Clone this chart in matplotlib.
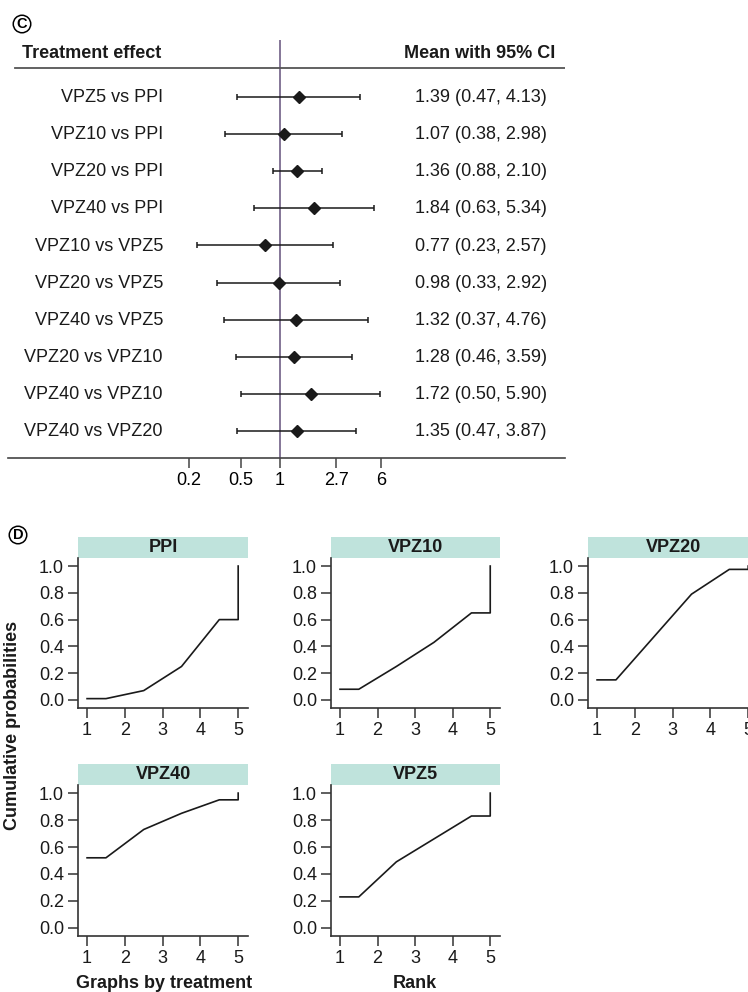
import numpy as np
import matplotlib
matplotlib.use('Agg')
from matplotlib import pyplot as plt
from matplotlib.patches import Rectangle

plt.rcParams['font.family'] = ['Liberation Sans', 'DejaVu Sans']

# Panel C data (network meta-analysis, treatment effects)
comparisons = ['VPZ5 vs PPI', 'VPZ10 vs PPI', 'VPZ20 vs PPI', 'VPZ40 vs PPI',
               'VPZ10 vs VPZ5', 'VPZ20 vs VPZ5', 'VPZ40 vs VPZ5',
               'VPZ20 vs VPZ10', 'VPZ40 vs VPZ10', 'VPZ40 vs VPZ20']
means = [1.39, 1.07, 1.36, 1.84, 0.77, 0.98, 1.32, 1.28, 1.72, 1.35]
lows = [0.47, 0.38, 0.88, 0.63, 0.23, 0.33, 0.37, 0.46, 0.50, 0.47]
highs = [4.13, 2.98, 2.10, 5.34, 2.57, 2.92, 4.76, 3.59, 5.90, 3.87]
forest_ticks = [0.2, 0.5, 1, 2.7, 6]
forest_ticklabels = ['0.2', '0.5', '1', '2.7', '6']

# Panel D data (cumulative rank probabilities)
treatments = ['PPI', 'VPZ10', 'VPZ20', 'VPZ40', 'VPZ5']
rank_x = [1, 1.5, 2.5, 3.5, 4.5, 5, 5]
cum_ppi = [0.01, 0.07, 0.25, 0.60]
cum_vpz10 = [0.08, 0.25, 0.43, 0.65]
cum_vpz20 = [0.15, 0.47, 0.79, 0.975]
cum_vpz40 = [0.52, 0.73, 0.85, 0.95]
cum_vpz5 = [0.23, 0.49, 0.66, 0.83]
cum_all = [cum_ppi, cum_vpz10, cum_vpz20, cum_vpz40, cum_vpz5]

W, H = 748, 992
fig = plt.figure(figsize=(W / 100, H / 100), dpi=100)


def px_axes(left, top, right, bottom):
    # axes from pixel box
    return fig.add_axes([left / W, 1 - bottom / H, (right - left) / W, (bottom - top) / H])


def circled(x, y, letter):
    fig.text(x / W, 1 - y / H, letter, ha='center', va='center', fontsize=10.5,
             fontweight='bold',
             bbox=dict(boxstyle='circle,pad=0.12', fc='white', ec='black', lw=1.1))


FS = 13

# ---------------- Panel C: forest plot ----------------
ax = px_axes(8, 40, 565, 458)
ax.set_xscale('log')
x1, scale = 280, 56.4
ax.set_xlim(np.exp((8 - x1) / scale), np.exp((565 - x1) / scale))
row0, step = 97, 37.1
ax.set_ylim((458 - row0) / step, (40 - row0) / step)

for s in ['top', 'left', 'right']:
    ax.spines[s].set_visible(False)
ax.spines['bottom'].set_color('#444444')
ax.spines['bottom'].set_linewidth(1.2)
ax.set_yticks([])
ax.set_xticks(forest_ticks)
ax.set_xticklabels(forest_ticklabels)
ax.minorticks_off()
ax.tick_params(axis='x', direction='out', length=7, width=1.1, color='#444444',
               labelsize=FS, pad=3)

ax.axvline(1, color='#7b6b8f', lw=1.3, zorder=1)
ax.axhline((68 - row0) / step, xmin=(15 - 8) / 557, xmax=1, color='#555555', lw=1.3)

idx = np.arange(len(comparisons))
m = np.array(means)
err = [m - np.array(lows), np.array(highs) - m]
ax.errorbar(m, idx, xerr=err, fmt='D', color='#1a1a1a', ms=6, capsize=2.5,
            elinewidth=1.1, capthick=1.1, zorder=3)

tr = ax.get_yaxis_transform()
for i, lab in enumerate(comparisons):
    ax.text((163 - 8) / 557, i + 0.14, lab, transform=tr, ha='right', va='baseline',
            fontsize=FS, color='#1a1a1a')
    ax.text((415 - 8) / 557, i + 0.14, f'{means[i]:.2f} ({lows[i]:.2f}, {highs[i]:.2f})',
            transform=tr, ha='left', va='baseline', fontsize=FS, color='#1a1a1a')
ax.text((22 - 8) / 557, (58 - row0) / step, 'Treatment effect', transform=tr,
        ha='left', va='baseline', fontsize=FS, fontweight='bold', color='#1a1a1a')
ax.text((555 - 8) / 557, (58 - row0) / step, 'Mean with 95% CI', transform=tr,
        ha='right', va='baseline', fontsize=FS, fontweight='bold', color='#1a1a1a')

circled(22, 24, 'C')

# ---------------- Panel D: cumulative rank plots ----------------
boxes = [(78, 558, 248, 708), (331, 558, 500, 708), (588, 558, 758, 708),
         (78, 785, 248, 936), (331, 785, 500, 936)]
strip_h = 21

for k, (l, t, r, b) in enumerate(boxes):
    a = px_axes(l, t, r, b)
    c = cum_all[k]
    yv = [c[0], c[0], c[1], c[2], c[3], c[3], 1.0]
    a.plot(rank_x, yv, color='#1a1a1a', lw=1.2)
    a.set_xlim(0.76, 5.26)
    a.set_ylim(-0.06, 1.06)
    a.spines['top'].set_visible(False)
    a.spines['right'].set_visible(False)
    for s in ['left', 'bottom']:
        a.spines[s].set_color('#333333')
        a.spines[s].set_linewidth(1.2)
    a.set_xticks([1, 2, 3, 4, 5])
    a.set_yticks([0, 0.2, 0.4, 0.6, 0.8, 1.0])
    a.set_yticklabels(['0.0', '0.2', '0.4', '0.6', '0.8', '1.0'])
    a.tick_params(direction='out', length=7, width=1.1, color='#333333',
                  labelsize=FS, pad=3, labelcolor='#1a1a1a')
    hfrac = strip_h / (b - t)
    a.add_patch(Rectangle((0, 1), 1, hfrac, transform=a.transAxes, clip_on=False,
                          fc='#bfe3dc', ec='none'))
    a.text(0.5, 1 + hfrac / 2, treatments[k], transform=a.transAxes, ha='center',
           va='center', fontsize=FS, fontweight='bold', color='#1a1a1a')

circled(18, 535, 'D')

fig.text(13 / W, 1 - 725 / H, 'Cumulative probabilities', rotation=90, ha='center',
         va='center', fontsize=FS, fontweight='bold', color='#1a1a1a')
fig.text(76 / W, 1 - 983 / H, 'Graphs by treatment', ha='left', va='center',
         fontsize=FS, fontweight='bold', color='#1a1a1a')
fig.text(415 / W, 1 - 983 / H, 'Rank', ha='center', va='center',
         fontsize=FS, fontweight='bold', color='#1a1a1a')

fig.savefig('out.png', dpi=100, facecolor='white')
